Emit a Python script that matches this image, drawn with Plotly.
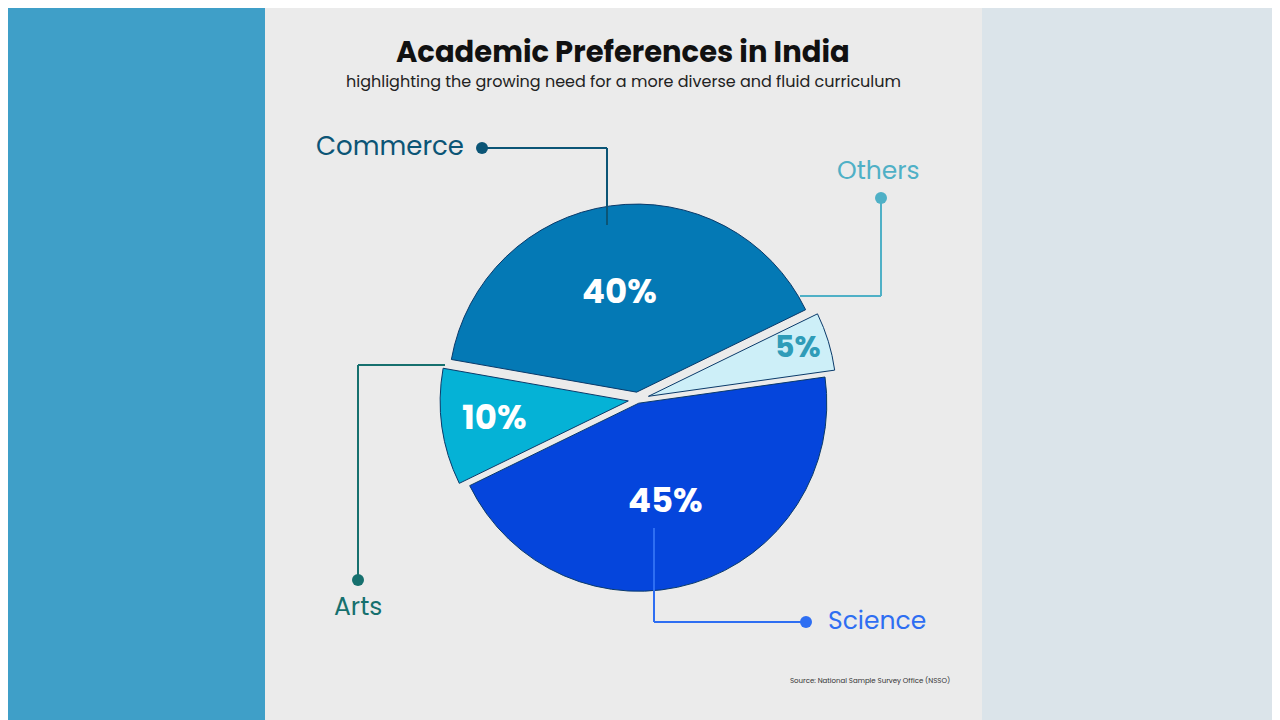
import math
import plotly.graph_objects as go

categories = ["Commerce", "Others", "Science", "Arts"]
values = [40, 5, 45, 10]
slice_colors = ["#0479b5", "#cdeff8", "#0545dc", "#05b2d6"]
pct_colors = ["white", "#2f9cb8", "white", "white"]
label_colors = ["#0b5576", "#4fb0c6", "#2e6ef2", "#16706e"]

ROT = -80
fig = go.Figure(go.Pie(
    labels=categories, values=values, sort=False, direction="clockwise",
    rotation=ROT, pull=[0.04, 0.06, 0.02, 0.05],
    marker=dict(colors=slice_colors, line=dict(color="#0a3a6a", width=1)),
    textinfo="none", showlegend=False, hoverinfo="label+percent",
    domain=dict(x=[0.33, 0.66], y=[0.17, 0.73]),
))

OX, OY = 8, 8
W, H = 1272, 712
def px(x): return (x - OX) / W
def py(y): return 1 - (y - OY) / H

shapes = [
    dict(type="rect", xref="paper", yref="paper", x0=0, x1=px(265), y0=0, y1=1,
         fillcolor="#3f9fc8", line_width=0, layer="below"),
    dict(type="rect", xref="paper", yref="paper", x0=px(982), x1=1, y0=0, y1=1,
         fillcolor="#dbe4ea", line_width=0, layer="below"),
]
leaders = [
    ([(482, 148), (607, 148), (607, 225)], "#0b5576"),
    ([(881, 198), (881, 296), (800, 296)], "#4fb0c6"),
    ([(358, 580), (358, 365), (445, 365)], "#16706e"),
    ([(806, 622), (654, 622), (654, 528)], "#2e6ef2"),
]
for pts, c in leaders:
    for (x0, y0), (x1, y1) in zip(pts[:-1], pts[1:]):
        shapes.append(dict(type="line", xref="paper", yref="paper",
                           x0=px(x0), y0=py(y0), x1=px(x1), y1=py(y1),
                           line=dict(color=c, width=2)))
    x, y = pts[0]
    shapes.append(dict(type="circle", xref="paper", yref="paper",
                       x0=px(x - 6), x1=px(x + 6), y0=py(y + 6), y1=py(y - 6),
                       fillcolor=c, line_width=0))

ann = [
    dict(text="<b>Academic Preferences in India</b>", x=623, y=52, size=29, color="#111"),
    dict(text="highlighting the growing need for a more diverse and fluid curriculum",
         x=623, y=82, size=16, color="#222"),
    dict(text=categories[0], x=390, y=146, size=26, color=label_colors[0]),
    dict(text=categories[1], x=878, y=171, size=25, color=label_colors[1]),
    dict(text=categories[3], x=358, y=606, size=25, color=label_colors[3]),
    dict(text=categories[2], x=877, y=620, size=25, color=label_colors[2]),
    dict(text="Source: National Sample Survey Office (NSSO)", x=870, y=680, size=7, color="#333"),
]
CX, CY, R = 634, 397, 195
total = sum(values)
start = 360 + ROT
radial = [0.55, 0.88, 0.55, 0.72]
for v, c, f in zip(values, pct_colors, radial):
    mid = start + v / total * 180
    start += v / total * 360
    a = math.radians(mid)
    ann.append(dict(text=f"<b>{v}%</b>", x=CX + f * R * math.sin(a),
                    y=CY - f * R * math.cos(a), size=34 if v > 5 else 30, color=c))

fig.update_layout(
    width=W, height=H, margin=dict(l=0, r=0, t=0, b=0),
    paper_bgcolor="#ebebeb", shapes=shapes,
    annotations=[dict(text=a["text"], x=px(a["x"]), y=py(a["y"]), xref="paper", yref="paper",
                      showarrow=False, xanchor="center", yanchor="middle",
                      font=dict(family="Poppins, Inter, Arial", size=a["size"], color=a["color"]))
                 for a in ann],
)
fig.write_html("out.html")
